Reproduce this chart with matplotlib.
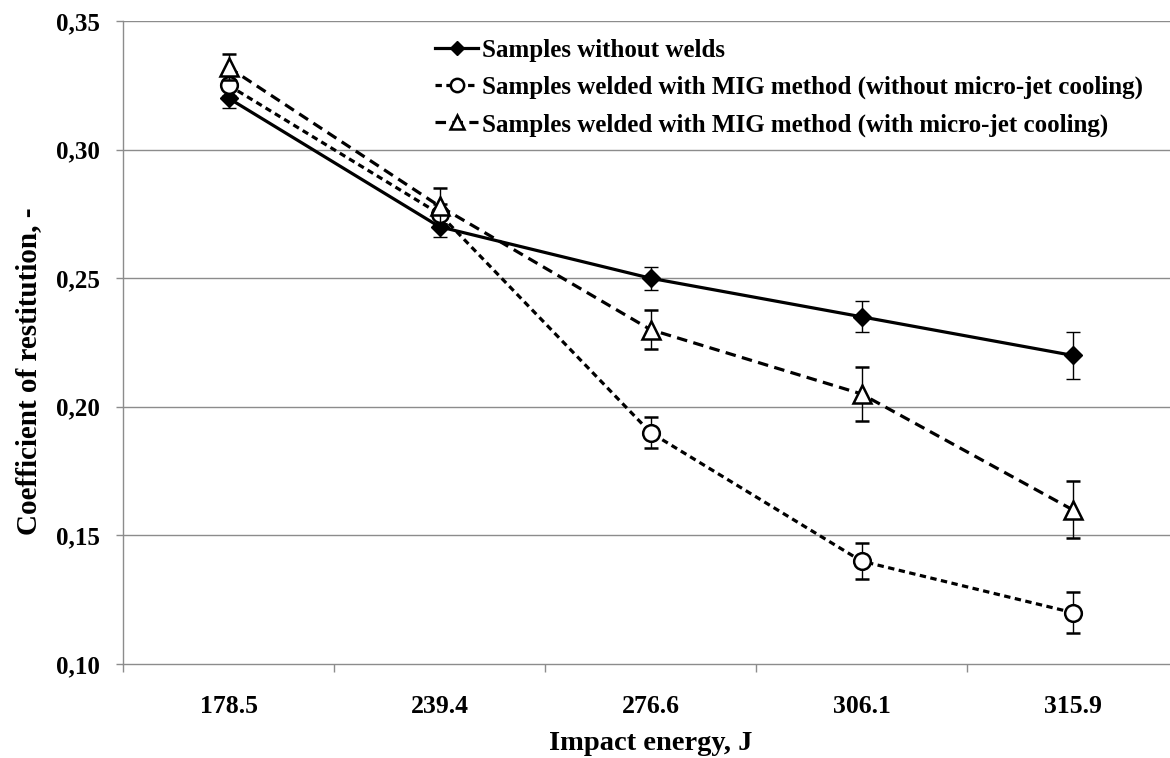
import numpy as np
import matplotlib
matplotlib.use('Agg')
import matplotlib.pyplot as plt
from matplotlib.lines import Line2D
from matplotlib.ticker import FuncFormatter, FixedLocator

# 数据
energy_labels = ['178.5', '239.4', '276.6', '306.1', '315.9']

no_weld = [0.320, 0.270, 0.250, 0.235, 0.220]
no_weld_err = [0.004, 0.004, 0.0045, 0.006, 0.009]

mig_no_cool = [0.325, 0.275, 0.190, 0.140, 0.120]
mig_no_cool_err = [0.004, 0.004, 0.006, 0.007, 0.008]

mig_cool = [0.332, 0.278, 0.230, 0.205, 0.160]
mig_cool_err = [0.005, 0.007, 0.0075, 0.0105, 0.011]

series_names = ['Samples without welds',
                'Samples welded with MIG method (without micro-jet cooling)',
                'Samples welded with MIG method (with micro-jet cooling)']

plt.rcParams['font.family'] = ['Liberation Serif', 'DejaVu Serif']
plt.rcParams['font.weight'] = 'bold'

fig = plt.figure(figsize=(11.7, 7.58), dpi=100)
ax = fig.add_axes([123 / 1170, (758 - 664) / 758, 1055 / 1170, 643 / 758])

x = np.arange(len(energy_labels))
grid_col = '#8c8c8c'

# 网格线
for yv in [0.15, 0.20, 0.25, 0.30, 0.35]:
    ax.axhline(yv, color=grid_col, lw=1.0, zorder=0)

ebar_kw = dict(ecolor='black', elinewidth=1.0, capsize=5, capthick=1.0)
styles = [
    dict(ls='-', marker='D', ms=9, mfc='black', mew=1.0),
    dict(ls=(0, (2.0, 1.4)), marker='o', ms=12, mfc='white', mew=1.8),
    dict(ls=(0, (3.3, 2.0)), marker='^', ms=13, mfc='white', mew=1.8),
]
all_vals = [no_weld, mig_no_cool, mig_cool]
all_errs = [no_weld_err, mig_no_cool_err, mig_cool_err]

handles = []
for i, (vals, errs, st) in enumerate(zip(all_vals, all_errs, styles)):
    ax.errorbar(x, vals, yerr=errs, color='black', lw=2.3, mec='black',
                zorder=3 + i, **st, **ebar_kw)
    legend_st = dict(st)
    legend_st['ms'] = st['ms'] * 0.8
    handles.append(Line2D([], [], color='black', lw=2.3, mec='black', **legend_st))

ax.set_xlim(-0.5, len(energy_labels) - 0.5)
ax.set_ylim(0.10, 0.35)

# 坐标轴
for side in ['top', 'right']:
    ax.spines[side].set_visible(False)
for side in ['left', 'bottom']:
    ax.spines[side].set_color(grid_col)
    ax.spines[side].set_linewidth(1.0)

ax.set_yticks([0.10, 0.15, 0.20, 0.25, 0.30, 0.35])
ax.yaxis.set_major_formatter(FuncFormatter(lambda v, p: f'{v:.2f}'.replace('.', ',')))
ax.tick_params(axis='y', length=5, width=1, color=grid_col, pad=12, labelsize=18)

ax.set_xticks(x)
ax.set_xticklabels(energy_labels)
ax.xaxis.set_minor_locator(FixedLocator(np.arange(-0.5, len(energy_labels), 1.0)))
ax.tick_params(axis='x', which='major', length=0, pad=22, labelsize=18.5)
ax.tick_params(axis='x', which='minor', length=6, width=1, color=grid_col)

ax.set_xlabel('Impact energy, J', fontsize=20.5, fontweight='bold', labelpad=9.5)
ax.set_ylabel('Coefficient of restitution, -', fontsize=21, fontweight='bold')
ax.yaxis.set_label_coords(-0.077, 0.456)

ax.legend(handles, series_names, loc='upper left', bbox_to_anchor=(0.296, 0.9725),
          frameon=False, fontsize=18, handlelength=1.72, handletextpad=0.16,
          labelspacing=0.56, borderpad=0, borderaxespad=0)

fig.savefig('out.png', dpi=100)
